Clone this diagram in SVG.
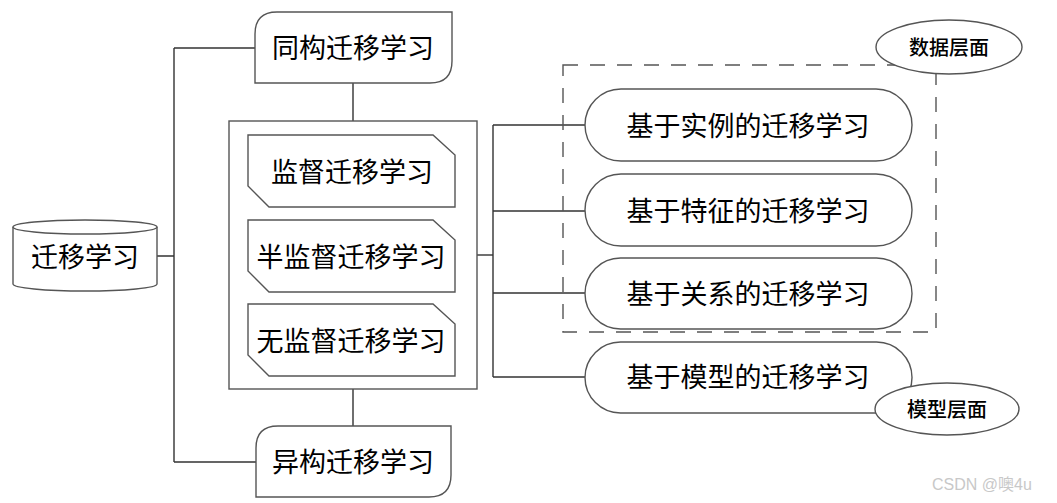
<svg xmlns="http://www.w3.org/2000/svg" width="1057" height="503" viewBox="0 0 1057 503">
<style>
.n{fill:#fff;stroke:#555;stroke-width:1.4}
.c{fill:none;stroke:#333;stroke-width:1.4}
.t{font-family:"Noto Sans CJK SC","Microsoft YaHei",sans-serif;font-size:27px;fill:#000;text-anchor:middle;dominant-baseline:central}
.s{font-family:"Noto Sans CJK SC",sans-serif;font-size:20px;font-weight:500;fill:#000;text-anchor:middle;dominant-baseline:central}
.w{font-family:"Liberation Sans","Noto Sans CJK SC",sans-serif;font-size:16px;fill:#c8c8c8}
</style>
<rect width="1057" height="503" fill="#fff"/>
<g id="connectors">
<path class="c" d="M174,48 V462 M174,48 H255 M174,462 H256 M157,256 H174"/>
<path class="c" d="M353,83 V121 M353,389 V426"/>
<path class="c" d="M477,255 H493" stroke-width="2.2"/>
<path class="c" d="M493,125 V377 M493,125 H585 M493,211 H585 M493,293 H585 M493,377 H585"/>
</g>
<g id="data-level-box">
<rect x="563" y="65" width="373" height="267" fill="none" stroke="#555" stroke-width="1.4" stroke-dasharray="15 12"/>
</g>
<g id="root">
<path class="n" d="M13,227 A72,7 0 0 1 157,227 V284 A72,7 0 0 1 13,284 Z"/>
<path class="n" d="M13,227 A72,7 0 0 0 157,227" fill="none"/>
<text class="t" x="85" y="255">迁移学习</text>
</g>
<g id="homogeneous">
<path class="n" d="M255,83 V34 Q255,12 277,12 H452 V61 Q452,83 430,83 Z"/>
<text class="t" x="353" y="46">同构迁移学习</text>
</g>
<g id="heterogeneous">
<path class="n" d="M256,497 V448 Q256,426 278,426 H451 V475 Q451,497 429,497 Z"/>
<text class="t" x="353" y="460">异构迁移学习</text>
</g>
<g id="learning-types">
<rect class="n" x="229" y="121" width="248" height="268"/>
</g>
<g id="supervised">
<polygon class="n" points="248,135 433,135 455,155 455,207 269,207 248,186"/>
<text class="t" x="352" y="170">监督迁移学习</text>
</g>
<g id="semi-supervised">
<polygon class="n" points="248,220 433,220 455,240 455,292 269,292 248,271"/>
<text class="t" x="351" y="255">半监督迁移学习</text>
</g>
<g id="unsupervised">
<polygon class="n" points="248,304 433,304 455,324 455,376 269,376 248,355"/>
<text class="t" x="351" y="339">无监督迁移学习</text>
</g>
<g id="instance-based">
<rect class="n" x="585" y="89" width="327" height="72" rx="36"/>
<text class="t" x="748" y="124">基于实例的迁移学习</text>
</g>
<g id="feature-based">
<rect class="n" x="585" y="174" width="327" height="72" rx="36"/>
<text class="t" x="748" y="209">基于特征的迁移学习</text>
</g>
<g id="relation-based">
<rect class="n" x="585" y="258" width="327" height="71" rx="35.5"/>
<text class="t" x="748" y="292">基于关系的迁移学习</text>
</g>
<g id="model-based">
<rect class="n" x="585" y="342" width="327" height="71" rx="35.5"/>
<text class="t" x="748" y="375">基于模型的迁移学习</text>
</g>
<g id="data-level">
<ellipse class="n" cx="949" cy="47" rx="73" ry="27"/>
<text class="s" x="949" y="46">数据层面</text>
</g>
<g id="model-level">
<ellipse class="n" cx="947" cy="409" rx="72" ry="26"/>
<text class="s" x="947" y="408">模型层面</text>
</g>
<text class="w" x="932" y="490">CSDN @噢4u</text>
</svg>
